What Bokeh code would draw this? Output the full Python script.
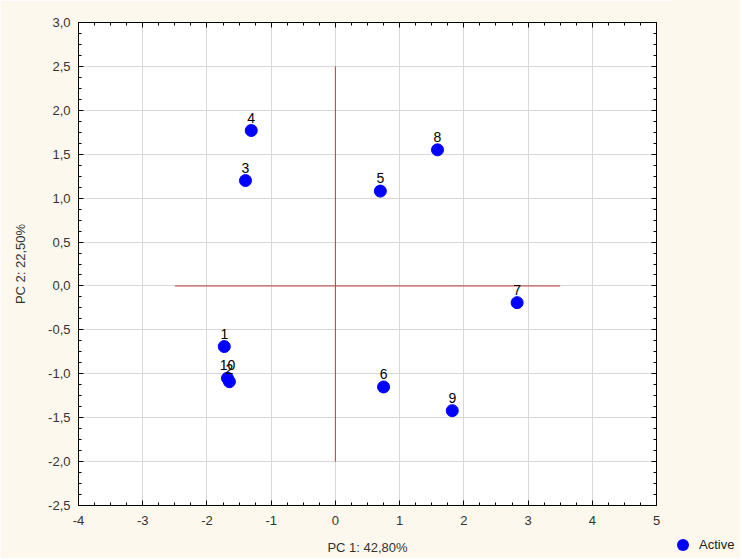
from bokeh.plotting import figure
from bokeh.layouts import row
from bokeh.models import (ColumnDataSource, LinearAxis, Div,
                          FixedTicker, CustomJSTickFormatter, Range1d)
from bokeh.embed import file_html
from bokeh.resources import INLINE

# data
labels = ["1", "2", "3", "4", "5", "6", "7", "8", "9", "10"]
pc1 = [-1.73, -1.65, -1.40, -1.31, 0.70, 0.75, 2.83, 1.59, 1.82, -1.68]
pc2 = [-0.69, -1.09, 1.20, 1.77, 1.08, -1.15, -0.19, 1.55, -1.42, -1.05]
x_ticks = [-4, -3, -2, -1, 0, 1, 2, 3, 4, 5]
y_ticks = [-2.5, -2.0, -1.5, -1.0, -0.5, 0.0, 0.5, 1.0, 1.5, 2.0, 2.5, 3.0]
# reference cross lines (x0, y0, x1, y1)
cross_x0 = [-2.5, 0.0]
cross_y0 = [0.0, -2.0]
cross_x1 = [3.5, 0.0]
cross_y1 = [0.0, 2.5]
series_name = "Active"

FONT = "Liberation Sans"
BG = "#FCF8EE"
DOT = "#0000FF"

p = figure(width=672, height=558, output_backend="svg", toolbar_location=None,
           x_range=Range1d(-4, 5), y_range=Range1d(-2.5, 3.0),
           background_fill_color="white", border_fill_color=BG,
           min_border_left=78, min_border_right=16, min_border_top=22,
           min_border_bottom=53)
p.outline_line_color = "black"

src = ColumnDataSource(dict(x=pc1, y=pc2, label=labels))

p.segment(x0=cross_x0, y0=cross_y0, x1=cross_x1, y1=cross_y1,
          line_color="#BC3C3C", line_width=1)
r = p.scatter("x", "y", source=src, size=12, fill_color=DOT, line_color=DOT)
p.text("x", "y", text="label", source=src, text_align="center",
       text_baseline="bottom", y_offset=-8, text_font_size="14px",
       text_color="black", text_font={"value": FONT})

yfmt = CustomJSTickFormatter(code="return tick.toFixed(1).replace('.', ',');")
xfmt = CustomJSTickFormatter(code="return tick.toFixed(0);")

x_minor = [t + 0.25 * k for t in x_ticks for k in (1, 2, 3)]
y_minor = [t + 0.125 * k for t in y_ticks for k in (1, 2, 3)]

for ax in [p.xaxis[0], p.yaxis[0]]:
    ax.major_tick_in = 5
    ax.major_tick_out = 0
    ax.minor_tick_in = 3
    ax.minor_tick_out = 0
    ax.axis_line_color = "black"
    ax.major_tick_line_color = "black"
    ax.minor_tick_line_color = "black"
    ax.major_label_text_font = FONT
    ax.major_label_text_font_size = "13px"
    ax.major_label_text_color = "#333333"
    ax.axis_label_text_font = FONT
    ax.axis_label_text_font_size = "13px"
    ax.axis_label_text_font_style = "normal"
    ax.axis_label_text_color = "#333333"

p.xaxis[0].ticker = FixedTicker(ticks=x_ticks, minor_ticks=x_minor)
p.yaxis[0].ticker = FixedTicker(ticks=y_ticks, minor_ticks=y_minor)
p.xaxis[0].formatter = xfmt
p.yaxis[0].formatter = yfmt
p.xaxis[0].axis_label = "PC 1: 42,80%"
p.yaxis[0].axis_label = "PC 2: 22,50%"
p.xaxis[0].major_label_standoff = 10
p.yaxis[0].major_label_standoff = 8
p.xaxis[0].axis_label_standoff = 12
p.yaxis[0].axis_label_standoff = 17

p.xgrid.ticker = FixedTicker(ticks=x_ticks)
p.ygrid.ticker = FixedTicker(ticks=y_ticks)
p.grid.grid_line_color = "#D8D8D8"
p.grid.grid_line_width = 1

for side in ["above", "right"]:
    ax = LinearAxis(major_label_text_font_size="0px", major_label_text_alpha=0,
                    major_tick_in=5, major_tick_out=0, minor_tick_in=3,
                    minor_tick_out=0, axis_line_color="black")
    if side == "above":
        ax.ticker = FixedTicker(ticks=x_ticks, minor_ticks=x_minor)
    else:
        ax.ticker = FixedTicker(ticks=y_ticks, minor_ticks=y_minor)
    ax.major_label_standoff = 0
    p.add_layout(ax, side)

# legend beside the x-axis title, outside the plot area
legend_html = (
    f'<div style="position:relative;width:68px;height:558px;background:{BG};">'
    f'<span style="position:absolute;left:5px;top:539px;width:12px;height:12px;'
    f'border-radius:50%;background:{DOT};"></span>'
    f'<span style="position:absolute;left:27px;top:537px;font-family:\'{FONT}\';'
    f'font-size:13px;line-height:16px;color:#222222;">{series_name}</span>'
    f'</div>'
)
lp = Div(text=legend_html, width=68, height=558,
         styles={"margin": "0", "padding": "0", "background-color": BG})

layout = row(p, lp, spacing=0)
open("out.html", "w").write(file_html(layout, INLINE))
